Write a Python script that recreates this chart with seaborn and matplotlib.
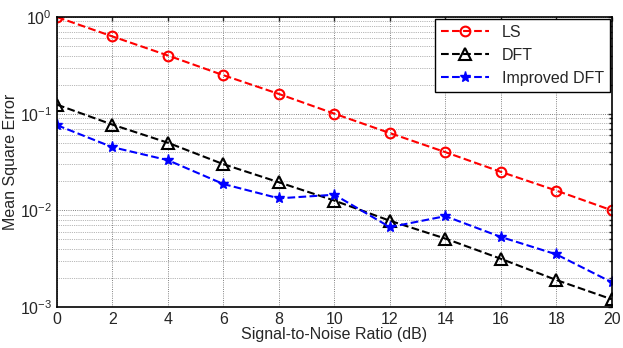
import matplotlib
matplotlib.use("Agg")
import matplotlib.pyplot as plt
import seaborn as sns
import pandas as pd
from matplotlib.ticker import LogLocator, NullFormatter

snr = [0, 2, 4, 6, 8, 10, 12, 14, 16, 18, 20]
ls = [1.0, 0.63, 0.40, 0.25, 0.16, 0.10, 0.063, 0.040, 0.025, 0.016, 0.010]
dft = [0.124, 0.077, 0.050, 0.030, 0.0195, 0.0126, 0.0078, 0.0051, 0.00315, 0.0019, 0.0012]
imp = [0.076, 0.045, 0.033, 0.0187, 0.0133, 0.0145, 0.0067, 0.0087, 0.0053, 0.0035, 0.0018]
labels = ["LS", "DFT", "Improved DFT"]
xticks = [0, 2, 4, 6, 8, 10, 12, 14, 16, 18, 20]

sns.set_style("white")
plt.rcParams['font.family'] = ['Liberation Sans', 'DejaVu Sans']

fig = plt.figure(figsize=(6.23, 3.48), dpi=100)
ax = fig.add_axes([0.0915, 0.118, 0.8905, 0.833])

styles = [
    dict(color="red", marker="o", markersize=7, markerfacecolor="none", markeredgecolor="red", markeredgewidth=1.5),
    dict(color="black", marker="^", markersize=8, markerfacecolor="none", markeredgecolor="black", markeredgewidth=1.5),
    dict(color="blue", marker="*", markersize=8, markerfacecolor="blue", markeredgecolor="blue", markeredgewidth=1),
]
for y, lab, st in zip([ls, dft, imp], labels, styles):
    df = pd.DataFrame({"x": snr, "y": y})
    sns.lineplot(data=df, x="x", y="y", ax=ax, label=lab, linestyle="--", linewidth=1.5, **st)

ax.set_yscale("log")
ax.set_xlim(0, 20)
ax.set_ylim(1e-3, 1)
ax.set_xticks(xticks)
ax.yaxis.set_minor_locator(LogLocator(base=10, subs=range(2, 10)))
ax.yaxis.set_minor_formatter(NullFormatter())
ax.grid(True, which="major", color="0.35", linestyle=":", linewidth=0.6)
ax.grid(True, which="minor", axis="y", color="0.45", linestyle=":", linewidth=0.5)
ax.tick_params(axis="both", which="both", direction="in", labelsize=11.5, top=True, right=True, length=3, width=1)
ax.tick_params(axis="y", which="minor", length=2)
for s in ax.spines.values():
    s.set_color("black")
    s.set_linewidth(1.2)
ax.set_xlabel("Signal-to-Noise Ratio (dB)", fontsize=11.5, labelpad=0)
ax.set_ylabel("Mean Square Error", fontsize=11.5, labelpad=1)
leg = ax.legend(loc="upper right", fontsize=11.5, frameon=True, fancybox=False, borderaxespad=0.1,
                handlelength=3.0, framealpha=1, edgecolor="black", borderpad=0.4, labelspacing=0.5)
leg.get_frame().set_linewidth(1)
fig.savefig("out.png", dpi=100)
